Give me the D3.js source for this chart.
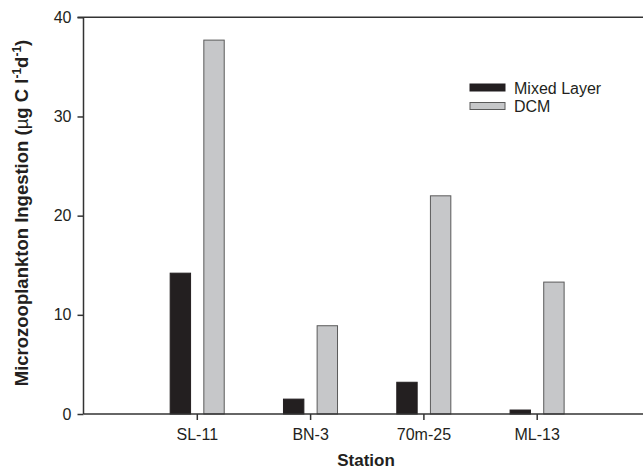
<!DOCTYPE html>
<html>
<head>
<meta charset="utf-8">
<script src="https://cdn.jsdelivr.net/npm/d3@7"></script>
<style>
  body { margin: 0; background: #fff; }
  text { font-family: "Liberation Sans", Arial, sans-serif; fill: #231f20; }
</style>
</head>
<body>
<div id="chart"></div>
<script>
// Chart data
const stations = ["SL-11", "BN-3", "70m-25", "ML-13"]
const mixedLayer = [14.2, 1.5, 3.2, 0.4]
const dcm = [37.7, 8.9, 22.0, 13.3]
const yTicks = [0, 10, 20, 30, 40]
const seriesNames = ["Mixed Layer", "DCM"]

function drawChart(container) {
    const width = 643, height = 471
    const left = 83.5, top = 17.3, bottom = 414

    let svg = d3.select(container).append("svg")
        .attr("width", width)
        .attr("height", height)

    // x: category positions 1..4 on a 0..5 axis
    let x = d3.scaleLinear().domain([0, 5]).range([left, left + 5 * 113.3])
    let y = d3.scaleLinear().domain([0, 40]).range([bottom, top])

    const axisColour = "#333"

    // Bars
    const barW = 0.18
    let gBars = svg.append("g")
    gBars.selectAll(".mixed")
        .data(mixedLayer)
        .enter()
        .append("rect")
        .attr("class", "mixed")
        .attr("x", (d, i) => x(i + 1 - 0.235))
        .attr("width", x(barW) - x(0))
        .attr("y", d => y(d))
        .attr("height", d => y(0) - y(d))
        .style("fill", "#231f20")
        .style("stroke", "#231f20")
        .style("stroke-width", 1)

    gBars.selectAll(".dcm")
        .data(dcm)
        .enter()
        .append("rect")
        .attr("class", "dcm")
        .attr("x", (d, i) => x(i + 1 + 0.062))
        .attr("width", x(barW) - x(0))
        .attr("y", d => y(d))
        .attr("height", d => y(0) - y(d))
        .style("fill", "#c6c7c9")
        .style("stroke", "#5a5a5a")
        .style("stroke-width", 1)

    // Y axis
    let yAxis = svg.append("g")
        .attr("transform", "translate(" + left + ",0)")
        .call(d3.axisLeft(y).tickValues(yTicks).tickSize(6).tickPadding(6))
    yAxis.select(".domain").remove()
    yAxis.append("line")
        .attr("x1", 0).attr("x2", 0)
        .attr("y1", top).attr("y2", bottom)
    yAxis.selectAll("line").style("stroke", axisColour).style("stroke-width", 1.5)
    yAxis.selectAll("text")
        .style("font-size", "16px")
        .style("font-family", "Liberation Sans, Arial, sans-serif")
        .style("fill", "#231f20")

    // X axis
    let xAxis = svg.append("g")
        .attr("transform", "translate(0," + bottom + ")")
        .call(d3.axisBottom(x)
            .tickValues([1, 2, 3, 4])
            .tickFormat(d => stations[d - 1])
            .tickSize(6)
            .tickPadding(9))
    xAxis.select(".domain").remove()
    xAxis.append("line")
        .attr("x1", left).attr("x2", width)
        .attr("y1", 0).attr("y2", 0)
    xAxis.selectAll("line").style("stroke", axisColour).style("stroke-width", 1.5)
    xAxis.selectAll("text")
        .style("font-size", "16px")
        .style("font-family", "Liberation Sans, Arial, sans-serif")
        .style("fill", "#231f20")

    // Top line
    svg.append("line")
        .attr("x1", left - 6).attr("x2", width)
        .attr("y1", top).attr("y2", top)
        .style("stroke", axisColour)
        .style("stroke-width", 1.5)

    // Axis titles
    svg.append("text")
        .attr("x", 366)
        .attr("y", 466)
        .attr("text-anchor", "middle")
        .style("font-size", "17px")
        .style("font-weight", "bold")
        .text("Station")

    let yTitle = svg.append("text")
        .attr("transform", "translate(28," + 213 + ") rotate(-90)")
        .attr("text-anchor", "middle")
        .style("font-size", "18.5px")
        .style("font-weight", "bold")
    yTitle.append("tspan").text("Microzooplankton Ingestion (")
    yTitle.append("tspan").style("font-weight", "normal").text("\u00b5")
    yTitle.append("tspan").text("g C l")
    yTitle.append("tspan").attr("dy", -7).style("font-size", "12px").text("-1")
    yTitle.append("tspan").attr("dy", 7).text("d")
    yTitle.append("tspan").attr("dy", -7).style("font-size", "12px").text("-1")
    yTitle.append("tspan").attr("dy", 7).text(")")

    // Legend
    const legendFill = ["#231f20", "#c6c7c9"]
    const legendStroke = ["#231f20", "#5a5a5a"]
    let legend = svg.append("g").attr("transform", "translate(470,84)")
    let items = legend.selectAll("g")
        .data(seriesNames)
        .enter()
        .append("g")
        .attr("transform", (d, i) => "translate(0," + i * 18.5 + ")")
    items.append("rect")
        .attr("width", 35)
        .attr("height", 7)
        .style("fill", (d, i) => legendFill[i])
        .style("stroke", (d, i) => legendStroke[i])
        .style("stroke-width", 1)
    items.append("text")
        .attr("x", 44)
        .attr("y", 9.5)
        .style("font-size", "16px")
        .text(d => d)
}

drawChart("#chart")
</script>
</body>
</html>
